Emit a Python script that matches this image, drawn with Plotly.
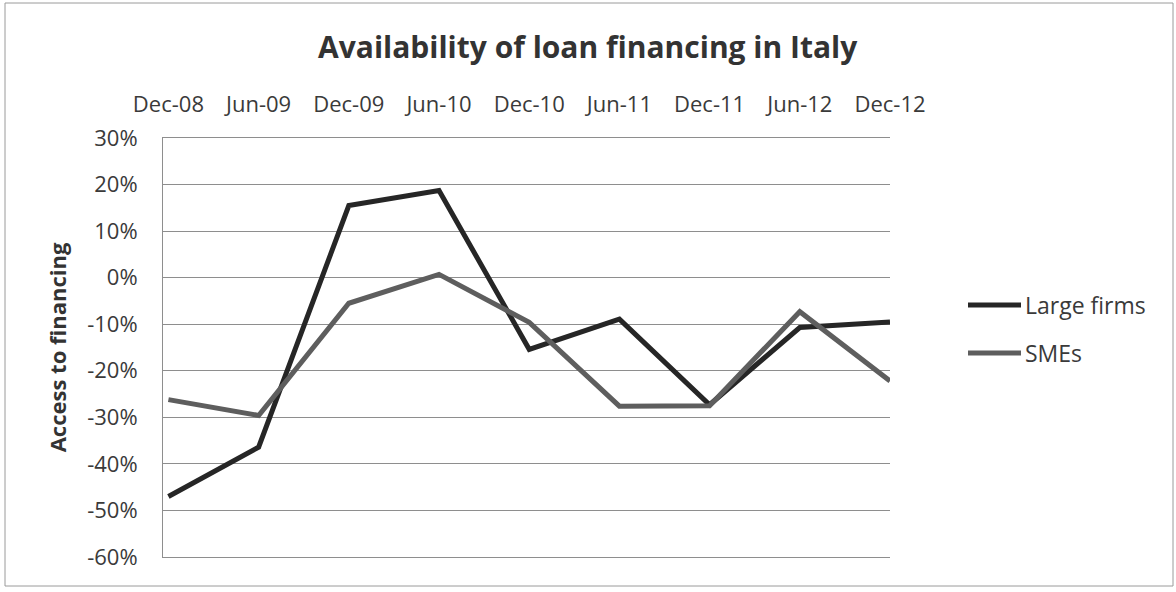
import plotly.graph_objects as go

# Survey periods and net share of firms reporting better access to bank loans (%)
periods = ["Dec-08", "Jun-09", "Dec-09", "Jun-10", "Dec-10",
           "Jun-11", "Dec-11", "Jun-12", "Dec-12"]
large_firms = [-47.0, -36.4, 15.5, 18.7, -15.4, -8.9, -27.3, -10.7, -9.5]
smes = [-26.2, -29.6, -5.5, 0.7, -9.6, -27.6, -27.5, -7.3, -22.2]
y_ticks = [30, 20, 10, 0, -10, -20, -30, -40, -50, -60]
y_tick_labels = [f"{v}%" for v in y_ticks]

W, H = 1176, 592
L, R, T, B = 163, 890, 138, 557  # plot area in pixels

def px_x(p):
    return (p - L) / (R - L)

def px_y(p):
    return (B - p) / (B - T)

FONT = "Open Sans"
TXT = "#3a3a3a"
GRID = "#8e8e8e"

idx = list(range(len(periods)))

fig = go.Figure()
fig.add_trace(go.Scatter(x=idx, y=large_firms, mode="lines", name="Large firms",
                         line=dict(color="#262626", width=5), showlegend=False))
fig.add_trace(go.Scatter(x=idx, y=smes, mode="lines", name="SMEs",
                         line=dict(color="#5e5e5e", width=5), showlegend=False))

shapes = [
    # outer chart frame
    dict(type="rect", xref="paper", yref="paper",
         x0=px_x(5), x1=px_x(1173), y0=px_y(586), y1=px_y(3),
         line=dict(color="#9a9a9a", width=1), layer="below"),
]
annotations = [
    dict(text="<b>Availability of loan financing in Italy</b>", xref="paper", yref="paper",
         x=px_x(588), y=px_y(46), xanchor="center", yanchor="middle", showarrow=False,
         font=dict(family=FONT, size=30, color="#333333")),
]

# legend drawn as line samples with labels
legend_items = [("Large firms", "#262626", 305), ("SMEs", "#5e5e5e", 353)]
for name, col, ypix in legend_items:
    shapes.append(dict(type="line", xref="paper", yref="paper",
                       x0=px_x(968), x1=px_x(1021), y0=px_y(ypix), y1=px_y(ypix),
                       line=dict(color=col, width=5)))
    annotations.append(dict(text=name, xref="paper", yref="paper",
                            x=px_x(1023), y=px_y(ypix), xanchor="left", yanchor="middle",
                            showarrow=False, font=dict(family=FONT, size=23, color=TXT)))

fig.update_layout(
    width=W, height=H,
    margin=dict(l=L, r=W - R, t=T, b=H - B, pad=0),
    paper_bgcolor="white", plot_bgcolor="white",
    font=dict(family=FONT, color=TXT),
    shapes=shapes, annotations=annotations,
    xaxis=dict(
        range=[-0.06, 8.0], side="top",
        tickmode="array", tickvals=idx, ticktext=periods,
        showgrid=False, zeroline=False,
        showline=True, mirror=True, linecolor=GRID, linewidth=1, ticks="",
        tickfont=dict(family=FONT, size=22, color=TXT),
        ticklabelstandoff=16,
    ),
    yaxis=dict(
        range=[-60, 30], tickmode="array", tickvals=y_ticks, ticktext=y_tick_labels,
        showgrid=True, gridcolor=GRID, gridwidth=1,
        zeroline=False, showline=True, linecolor=GRID, linewidth=1,
        ticks="", tickfont=dict(family=FONT, size=22, color=TXT),
        ticklabelstandoff=20,
        title=dict(text="<b>Access to financing</b>", standoff=14,
                   font=dict(family=FONT, size=22, color="#333333")),
    ),
)

fig.write_html("out.html")
